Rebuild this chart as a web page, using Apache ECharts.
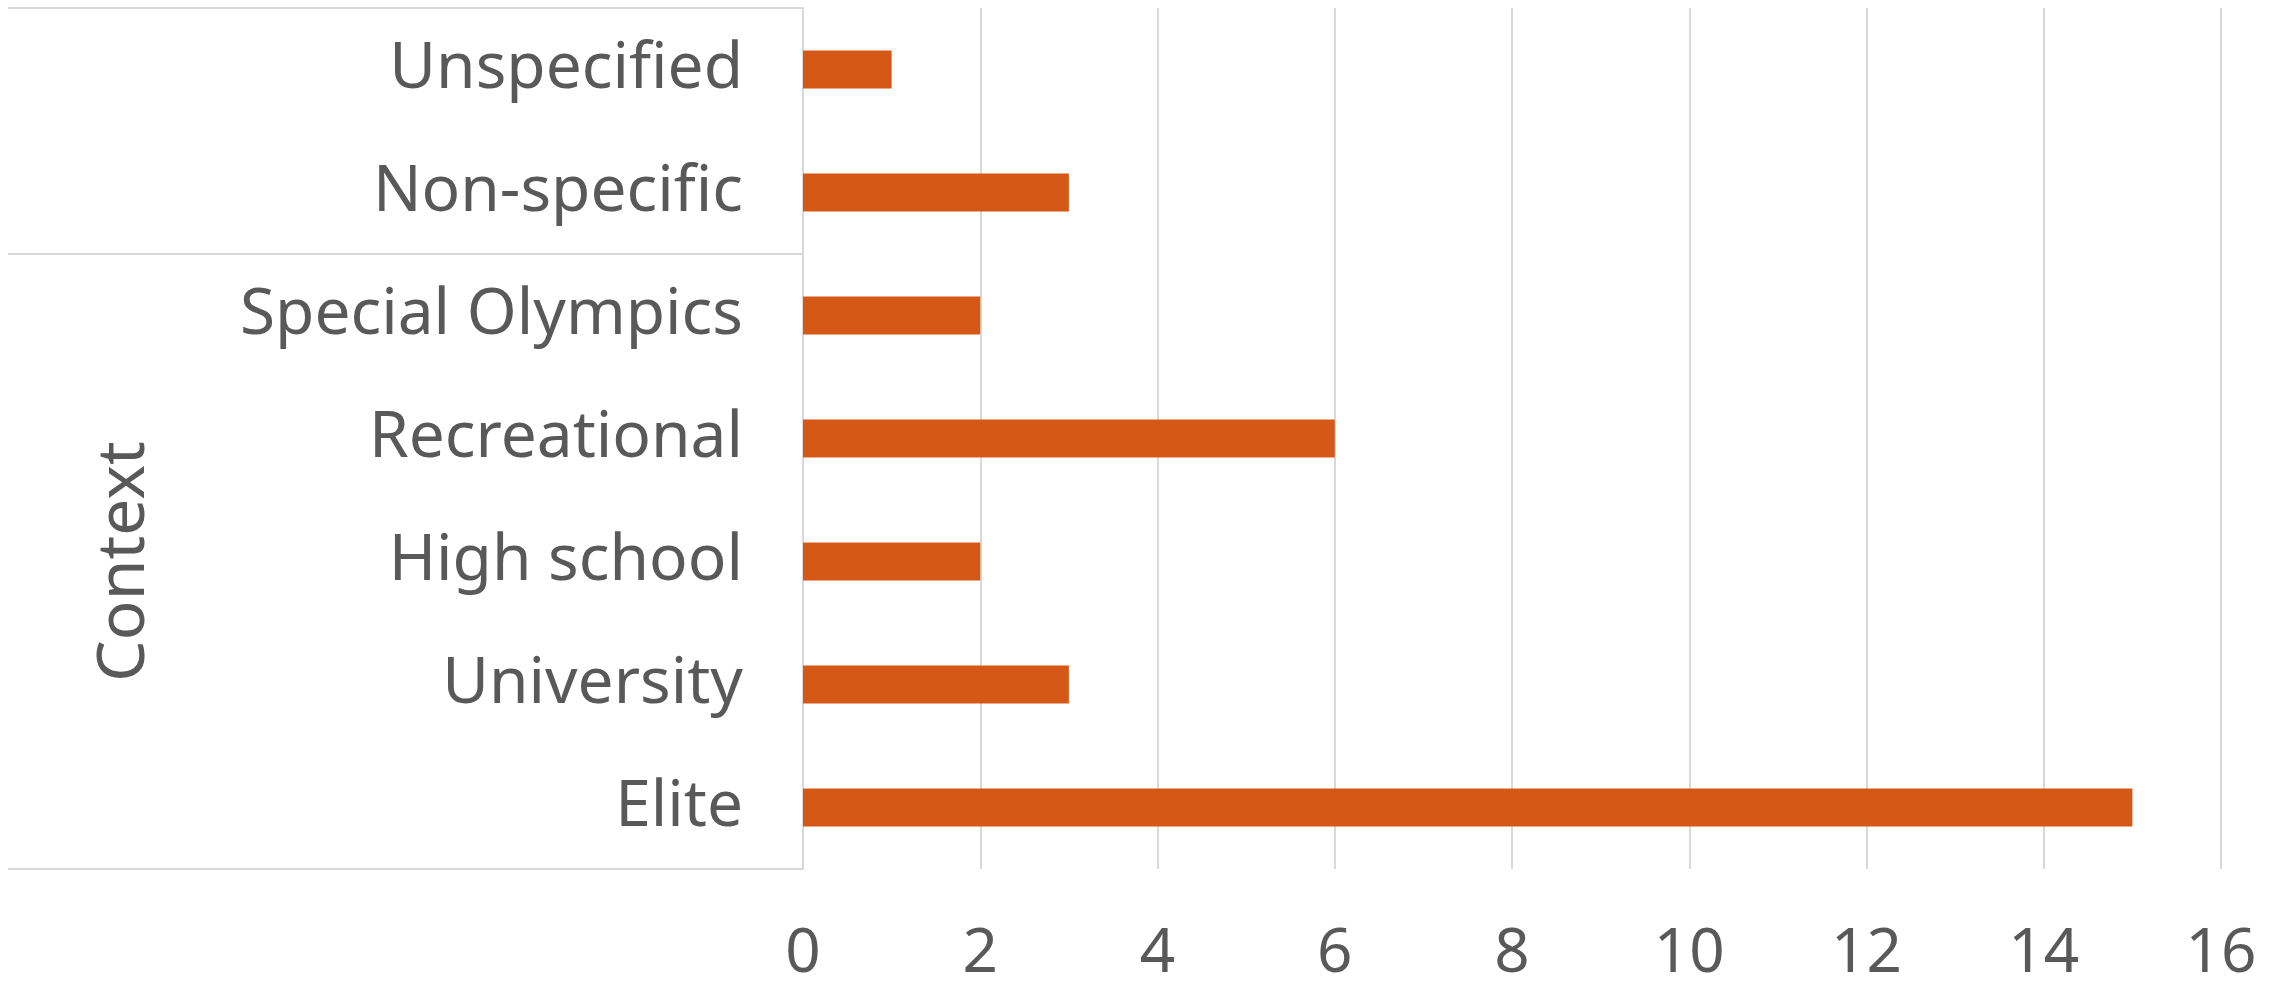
<!DOCTYPE html>
<html>
<head>
<meta charset="utf-8">
<script src="https://cdn.jsdelivr.net/npm/echarts@6/dist/echarts.min.js"></script>
<style>
html,body{margin:0;padding:0;background:#fff;}
#c{width:2284px;height:985px;}
</style>
</head>
<body>
<div id="c"></div>
<script>
const categories = ['Unspecified','Non-specific','Special Olympics','Recreational','High school','University','Elite'];
const values = [1,3,2,6,2,3,15];
const groupName = 'Context';
const groupBounds = [0,2,7];   // category boundaries of groups (top to bottom)
const groupCenter = 4.5;

const chart = echarts.init(document.getElementById('c'));
chart.setOption({
  backgroundColor:'#ffffff',
  animation:false,
  grid:{left:803,right:63,top:8,bottom:115,containLabel:false},
  xAxis:{
    type:'value',min:0,max:16,interval:2,
    axisLine:{show:false},axisTick:{show:false},
    splitLine:{show:true,lineStyle:{color:'#d9d9d9',width:2}},
    axisLabel:{color:'#595959',fontSize:62,fontFamily:'Noto Sans',margin:54}
  },
  yAxis:[{
    type:'category',data:categories,inverse:true,
    axisLine:{show:true,lineStyle:{color:'#d9d9d9',width:2}},
    axisTick:{show:false},
    axisLabel:{color:'#595959',fontSize:64,fontFamily:'Noto Sans',margin:60}
  },{
    type:'value',min:0,max:7,inverse:true,position:'left',
    axisLine:{show:false},
    splitLine:{show:false},
    axisTick:{show:true,customValues:groupBounds,length:795,lineStyle:{color:'#d9d9d9',width:2}},
    axisLabel:{show:true,customValues:[groupCenter],formatter:function(){return groupName;},
      rotate:90,color:'#595959',fontSize:66,fontFamily:'Noto Sans',margin:645}
  }],
  series:[{
    type:'bar',data:values,yAxisIndex:0,barWidth:'31%',
    itemStyle:{color:'#D55816'}
  }]
});
</script>
</body>
</html>
